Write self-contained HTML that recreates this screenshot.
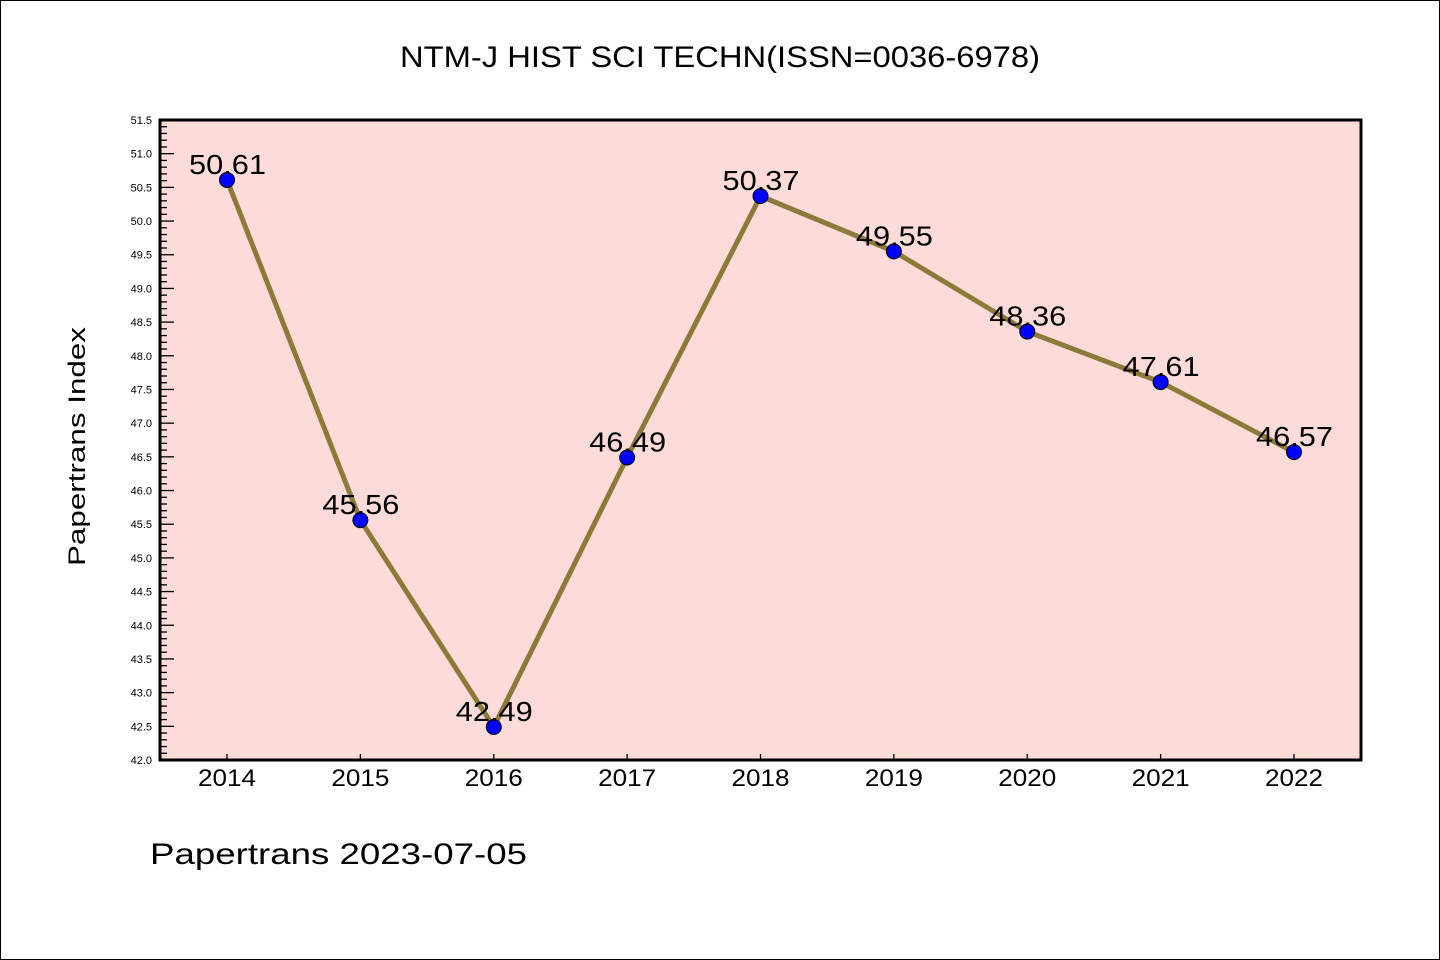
<!DOCTYPE html>
<html><head><meta charset="utf-8"><style>
body{margin:0;background:#fff}
svg{display:block}
text{font-family:"WenQuanYi Zen Hei","Liberation Sans",sans-serif;fill:#000}
.sm{font-family:"Liberation Sans",sans-serif}
</style></head><body>
<svg id="c" width="1440" height="960">
<rect x="0.5" y="0.5" width="1439" height="959" fill="#fff" stroke="#000"/>
<text x="400" y="67" font-size="30" textLength="640" lengthAdjust="spacingAndGlyphs">NTM-J HIST SCI TECHN(ISSN=0036-6978)</text>
<rect x="160" y="120" width="1201" height="640" fill="#fddbd8"/>
<g id="yaxis"></g><g id="xaxis"></g><g id="series"></g>
<rect x="160" y="120" width="1201" height="640" fill="none" stroke="#000" stroke-width="3"/>
<text transform="translate(85,566) rotate(-90)" font-size="24" textLength="239" lengthAdjust="spacingAndGlyphs">Papertrans Index</text>
<text x="150" y="864" font-size="30" textLength="377" lengthAdjust="spacingAndGlyphs">Papertrans 2023-07-05</text>
</svg>
<script>
const categories=["2014","2015","2016","2017","2018","2019","2020","2021","2022"];
const values=[50.61,45.56,42.49,46.49,50.37,49.55,48.36,47.61,46.57];
const yTicks=["42.0","42.5","43.0","43.5","44.0","44.5","45.0","45.5","46.0","46.5","47.0","47.5","48.0","48.5","49.0","49.5","50.0","50.5","51.0","51.5"];
const NS="http://www.w3.org/2000/svg";
const yMin=42,yMax=51.5,plotTop=120,plotBot=760;
const y=v=>plotBot-(v-yMin)/(yMax-yMin)*(plotBot-plotTop);
const x=i=>227+i*(1294-227)/(categories.length-1);
function mk(t,a,p){const e=document.createElementNS(NS,t);for(const k in a)e.setAttribute(k,a[k]);p.appendChild(e);return e;}
const ya=document.getElementById('yaxis');
for(let k=0;k<=Math.round((yMax-yMin)*10);k++){
 const v=yMin+k/10,maj=k%5===0;
 const l=mk('line',{x1:160,x2:160+(maj?14:7),y1:y(v),y2:y(v),stroke:'#000','stroke-width':1.3},ya);
 
 
}
yTicks.forEach(s=>{
 const t=mk('text',{x:152,y:y(parseFloat(s))+4,'font-size':11,'text-anchor':'end','class':'sm'},ya);t.textContent=s;
 
 
});
const xa=document.getElementById('xaxis');
categories.forEach((c,i)=>{
 const l=mk('line',{x1:x(i),x2:x(i),y1:plotBot,y2:plotBot-6,stroke:'#000','stroke-width':1.3},xa);
 
 
 const t=mk('text',{x:x(i)-29,y:786,'font-size':24,textLength:58,lengthAdjust:'spacingAndGlyphs'},xa);t.textContent=c;
 
 
});
const sg=document.getElementById('series');
const line=mk('polyline',{points:values.map((v,i)=>x(i)+','+y(v)).join(' '),fill:'none',stroke:'#8b7a3a','stroke-width':5,'stroke-linejoin':'round'},sg);


values.forEach((v,i)=>{
 const c=mk('circle',{cx:x(i),cy:y(v),r:7.5,fill:'#0000ff',stroke:'#000','stroke-width':1},sg);
 
 
 const t=mk('text',{x:x(i)-38,y:y(v)-6,'font-size':28,textLength:77,lengthAdjust:'spacingAndGlyphs'},sg);t.textContent=v.toFixed(2);
 
 
});
</script>
</body></html>
